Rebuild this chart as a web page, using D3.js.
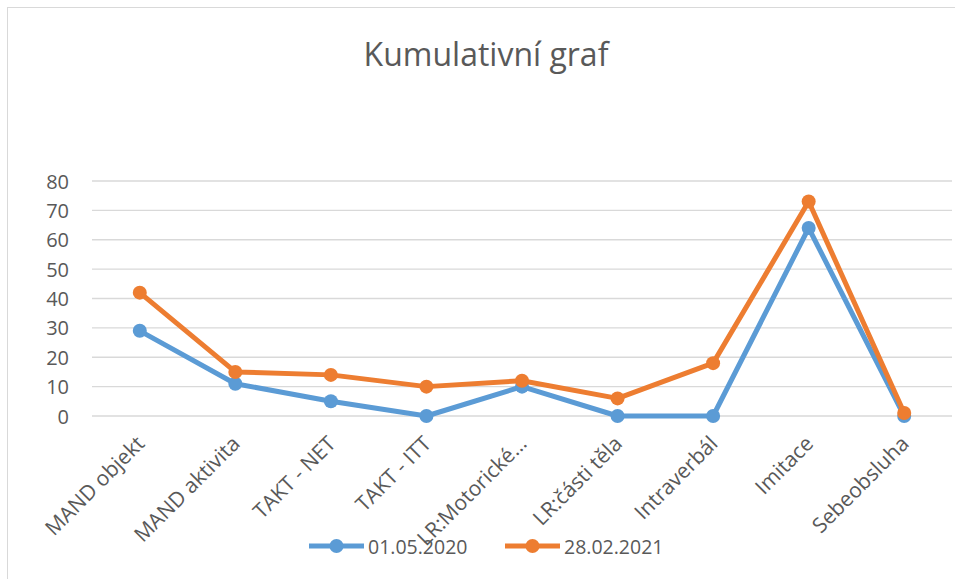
<!DOCTYPE html>
<html>
<head>
<meta charset="utf-8">
<script src="https://cdn.jsdelivr.net/npm/d3@7"></script>
<style>
  body { margin: 0; background: #fff; }
  text { font-family: "Open Sans", Lato, sans-serif; fill: #595959; }
</style>
</head>
<body>
<svg id="chart"></svg>
<script>
// chart data
var categories = ["MAND objekt", "MAND aktivita", "TAKT - NET", "TAKT - ITT", "LR:Motorické…", "LR:části těla", "Intraverbál", "Imitace", "Sebeobsluha"]
var series1 = [29, 11, 5, 0, 10, 0, 0, 64, 0]
var series2 = [42, 15, 14, 10, 12, 6, 18, 73, 1]
var seriesNames = ["01.05.2020", "28.02.2021"]
var colors = ["#5B9BD5", "#ED7D31"]
var yTicks = [0, 10, 20, 30, 40, 50, 60, 70, 80]

var width = 955
var height = 579

var svg = d3.select("#chart")
    .attr("width", width)
    .attr("height", height)

// chart border
svg.append("rect")
    .attr("x", 7.5).attr("y", 7.5)
    .attr("width", 960).attr("height", 590)
    .attr("fill", "#fff")
    .attr("stroke", "#d9d9d9")

svg.append("text")
    .attr("x", 486).attr("y", 66)
    .attr("text-anchor", "middle")
    .attr("font-size", "32px")
    .text("Kumulativní graf")

var x = d3.scaleBand().domain(categories).range([92, 952])
var y = d3.scaleLinear().domain([0, 80]).range([416, 181])

// gridlines
svg.append("g").selectAll("line")
    .data(yTicks)
    .enter().append("line")
    .attr("x1", 92).attr("x2", 952)
    .attr("y1", (d) => y(d)).attr("y2", (d) => y(d))
    .attr("stroke", "#d9d9d9")
    .attr("stroke-width", 1.3)

// y labels
svg.append("g").selectAll("text")
    .data(yTicks)
    .enter().append("text")
    .attr("x", 69).attr("y", (d) => y(d))
    .attr("text-anchor", "end")
    .attr("dominant-baseline", "central")
    .attr("font-size", "20px")
    .text((d) => d)

// x labels, rotated
svg.append("g").selectAll("text")
    .data(categories)
    .enter().append("text")
    .attr("transform", (d) => "translate(" + (x(d) + x.bandwidth() / 2 + 6) + ",445) rotate(-45)")
    .attr("text-anchor", "end")
    .attr("font-size", "21px")
    .text((d) => d)

var line = d3.line()
    .x((d, i) => x(categories[i]) + x.bandwidth() / 2)
    .y((d) => y(d))

var allSeries = [series1, series2]
allSeries.forEach(function (s, k) {
    svg.append("path")
        .datum(s)
        .attr("d", line)
        .attr("fill", "none")
        .attr("stroke", colors[k])
        .attr("stroke-width", 5)
        .attr("stroke-linejoin", "round")
    svg.append("g").selectAll("circle")
        .data(s)
        .enter().append("circle")
        .attr("cx", (d, i) => x(categories[i]) + x.bandwidth() / 2)
        .attr("cy", (d) => y(d))
        .attr("r", 7)
        .attr("fill", colors[k])
})

// legend
var legendX = [309, 505]
seriesNames.forEach(function (name, k) {
    var g = svg.append("g").attr("transform", "translate(" + legendX[k] + ",546)")
    g.append("line").attr("x1", 0).attr("x2", 55)
        .attr("stroke", colors[k]).attr("stroke-width", 5)
    g.append("circle").attr("cx", 27.5).attr("r", 7).attr("fill", colors[k])
    g.append("text").attr("x", 59).attr("dominant-baseline", "central")
        .attr("font-size", "19.5px").text(name)
})
</script>
</body>
</html>
